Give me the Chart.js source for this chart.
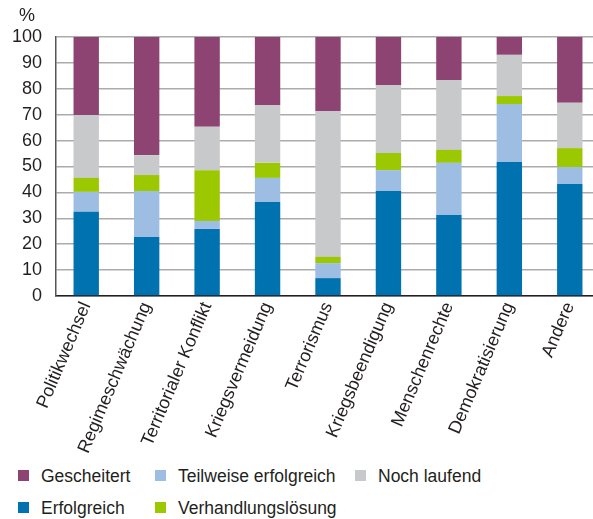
<!DOCTYPE html>
<html lang="de">
<head>
  <meta charset="UTF-8">
  <title>Ergebnisse nach Ziel</title>
  <script src="https://cdn.jsdelivr.net/npm/chart.js"></script>
  <style>
    body { margin: 0; width: 593px; height: 519px; overflow: hidden; background: #fff; font-family: "Liberation Sans", Arial, sans-serif; color: #231F20; position: relative; }
    #wrap { position: absolute; left: 0; top: 0; width: 600px; height: 460px; }
    #pct { position: absolute; left: 19px; top: 5px; font-size: 18px; }
    .lg { position: absolute; font-size: 17.5px; line-height: 20px; }
    .lg i { position: absolute; left: -23px; top: 4px; width: 11px; height: 11px; }
  </style>
</head>
<body>
  <div id="wrap"><canvas id="chart" width="600" height="460"></canvas></div>
  <div id="pct">%</div>
  <div id="legend"></div>

  <script>
    // Kategorien und Anteile in Prozent
    const categories = ['Politikwechsel', 'Regimeschwächung', 'Territorialer Konflikt', 'Kriegsvermeidung',
      'Terrorismus', 'Kriegsbeendigung', 'Menschenrechte', 'Demokratisierung', 'Andere'];
    const erfolgreich   = [32.5, 22.8, 25.9, 36.3,  6.9, 40.5, 31.3, 51.7, 43.2];
    const teilweise     = [ 7.7, 17.7,  3.1,  9.3,  5.8,  8.1, 20.1, 22.4,  6.6];
    const verhandlung   = [ 5.4,  6.2, 19.6,  5.8,  2.4,  6.6,  5.0,  3.1,  7.3];
    const nochLaufend   = [24.3,  7.7, 16.7, 22.3, 56.3, 26.3, 27.0, 15.9, 17.5];
    const gescheitert   = [30.1, 45.6, 34.7, 26.3, 28.6, 18.5, 16.6,  6.9, 25.4];
    const yTicks = [0, 10, 20, 30, 40, 50, 60, 70, 80, 90, 100];

    const series = [
      { label: 'Erfolgreich', data: erfolgreich, color: '#0072B0' },
      { label: 'Teilweise erfolgreich', data: teilweise, color: '#9DBDE3' },
      { label: 'Verhandlungslösung', data: verhandlung, color: '#9BC800' },
      { label: 'Noch laufend', data: nochLaufend, color: '#C8C9CB' },
      { label: 'Gescheitert', data: gescheitert, color: '#8E4472' }
    ];

    const font = { family: '"Liberation Sans", Arial, sans-serif', size: 18 };

    new Chart(document.getElementById('chart'), {
      type: 'bar',
      data: {
        labels: categories,
        datasets: series.map(s => ({
          label: s.label, data: s.data, backgroundColor: s.color,
          barPercentage: 0.42, categoryPercentage: 1
        }))
      },
      options: {
        responsive: false,
        animation: false,
        layout: { padding: { left: 11, top: 37, right: 0, bottom: 0 } },
        plugins: { legend: { display: false }, tooltip: { enabled: false } },
        scales: {
          x: {
            stacked: true,
            grid: { display: false, drawTicks: false },
            border: { display: true, color: '#231F20', width: 1.5 },
            ticks: { color: '#231F20', font: font, minRotation: 67, maxRotation: 67, padding: 3 },
            afterFit: s => { s.height = 164; s.paddingLeft = 0; s.paddingRight = 0; }
          },
          y: {
            stacked: true,
            min: 0, max: 100,
            afterBuildTicks: s => { s.ticks = yTicks.map(v => ({ value: v })); },
            grid: { color: '#ABABAB', lineWidth: 1.5, drawTicks: false },
            border: { display: true, color: '#555555', width: 1.5 },
            ticks: { color: '#231F20', font: font, padding: 14 },
            afterFit: s => { s.width = 45; s.paddingTop = 0; }
          }
        }
      }
    });

    // Legende (zwei Zeilen, drei Spalten)
    const legendOrder = [
      { i: 4, x: 41, y: 466 }, { i: 1, x: 178, y: 466 }, { i: 3, x: 378, y: 466 },
      { i: 0, x: 41, y: 498 }, { i: 2, x: 178, y: 498 }
    ];
    const lg = document.getElementById('legend');
    legendOrder.forEach(o => {
      const d = document.createElement('div');
      d.className = 'lg';
      d.style.left = o.x + 'px';
      d.style.top = o.y + 'px';
      d.innerHTML = '<i style="background:' + series[o.i].color + '"></i>' + series[o.i].label;
      lg.appendChild(d);
    });
  </script>
</body>
</html>
